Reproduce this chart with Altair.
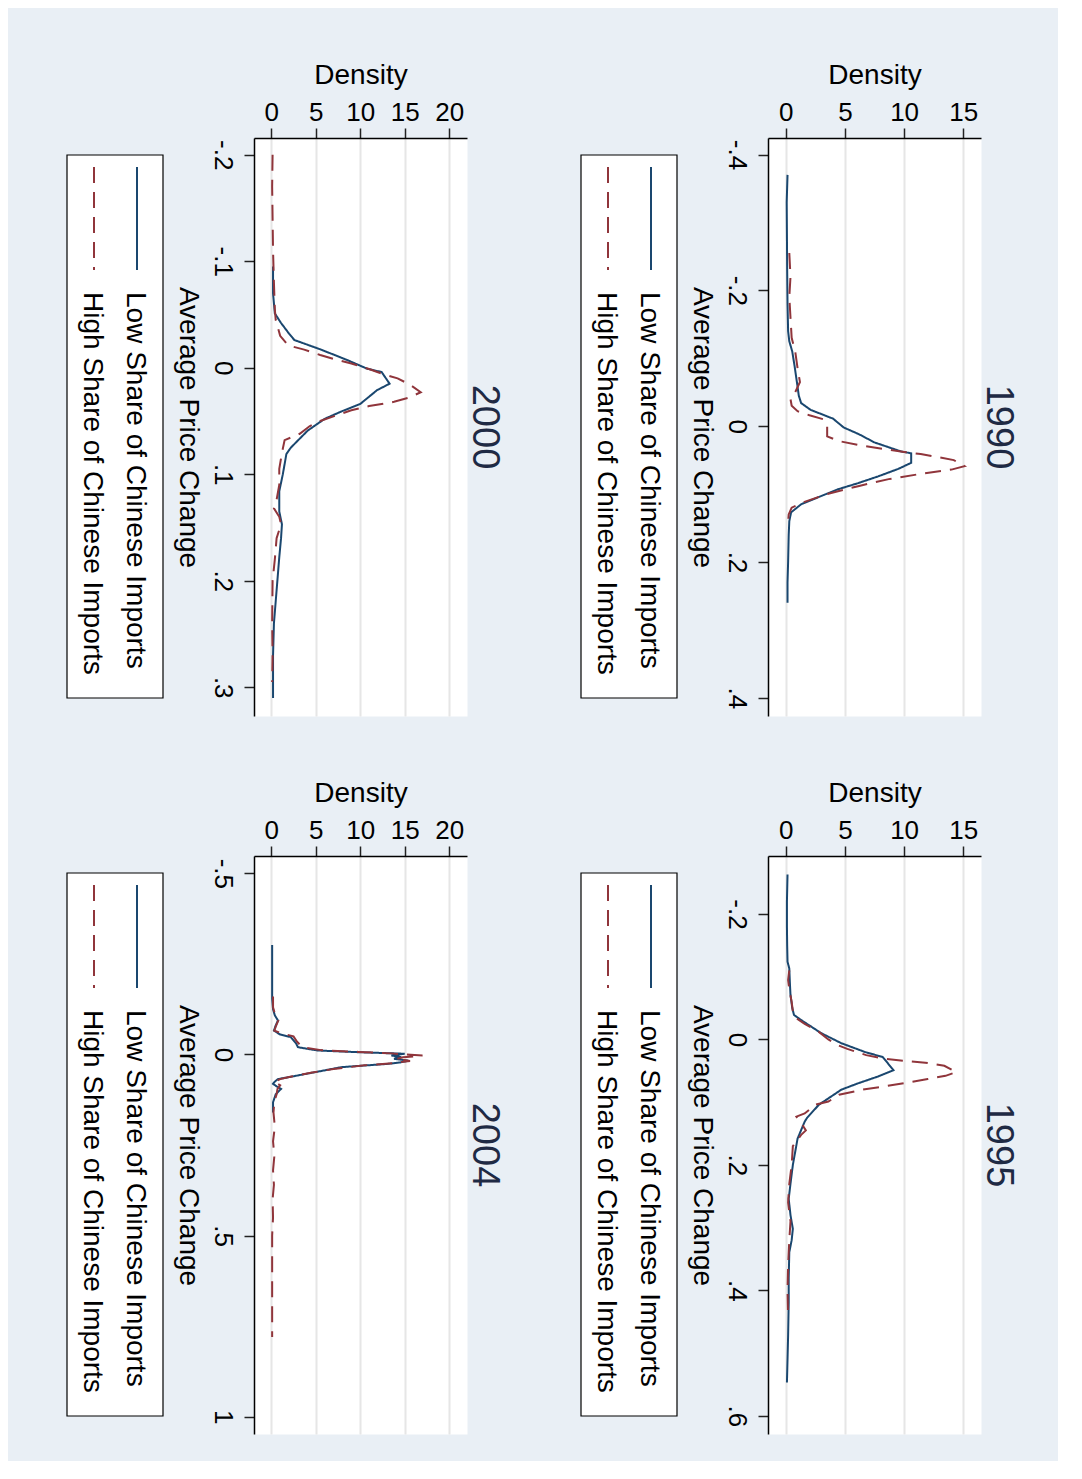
import altair as alt
import pandas as pd

FONT = "Liberation Sans"
LOW = "Low Share of Chinese Imports"
HIGH = "High Share of Chinese Imports"
NAVY = "#1A476F"
MAROON = "#90353B"
BG = "#E9EFF5"

# ---------------- data ----------------
low_1990_price = [-0.37, -0.33, -0.28, -0.23, -0.18, -0.14, -0.125, -0.11, -0.088, -0.064, -0.045, -0.034,
                  -0.024, -0.011, 0.002, 0.012, 0.024, 0.037, 0.040, 0.054, 0.063, 0.074, 0.084, 0.093,
                  0.105, 0.115, 0.127, 0.14, 0.16, 0.20, 0.23, 0.26]
low_1990_dens = [0.15, 0.08, 0.1, 0.12, 0.15, 0.2, 0.3, 0.55, 0.75, 0.95, 1.1, 1.3,
                 2.1, 4.0, 4.9, 6.2, 7.5, 9.7, 10.6, 10.6, 9.5, 7.8, 6.1, 4.4,
                 2.7, 1.3, 0.45, 0.3, 0.25, 0.2, 0.15, 0.15]
high_1990_price = [-0.255, -0.22, -0.19, -0.16, -0.13, -0.11, -0.085, -0.065, -0.05, -0.04, -0.03, -0.022,
                   -0.016, -0.01, 0.0, 0.015, 0.022, 0.028, 0.033, 0.038, 0.041, 0.046, 0.050, 0.059,
                   0.064, 0.070, 0.078, 0.088, 0.10, 0.112, 0.12, 0.13, 0.14]
high_1990_dens = [0.3, 0.4, 0.3, 0.4, 0.5, 0.8, 1.0, 1.2, 0.8, 0.4, 0.5, 1.0,
                  2.0, 3.2, 3.5, 3.5, 4.5, 6.2, 8.0, 10.0, 11.4, 13.0, 14.2, 15.1,
                  14.0, 11.5, 8.7, 6.2, 3.5, 1.5, 0.5, 0.25, 0.2]

low_1995_price = [-0.263, -0.22, -0.18, -0.15, -0.124, -0.113, -0.09, -0.071, -0.05, -0.039, -0.031, -0.010,
                  0.006, 0.020, 0.028, 0.049, 0.059, 0.070, 0.080, 0.099, 0.104, 0.125, 0.131, 0.158,
                  0.20, 0.23, 0.254, 0.28, 0.302, 0.32, 0.339, 0.38, 0.419, 0.472, 0.51, 0.547]
low_1995_dens = [0.15, 0.1, 0.1, 0.12, 0.15, 0.3, 0.35, 0.4, 0.55, 0.7, 1.3, 3.0,
                 4.7, 6.7, 8.2, 9.1, 7.8, 6.1, 4.7, 3.2, 2.8, 1.8, 1.6, 1.0,
                 0.6, 0.4, 0.25, 0.4, 0.6, 0.5, 0.3, 0.25, 0.25, 0.2, 0.15, 0.1]
high_1995_price = [-0.11, -0.095, -0.08, -0.06, -0.045, -0.035, -0.025, -0.012, 0.0, 0.009, 0.015, 0.025,
                   0.031, 0.034, 0.037, 0.042, 0.052, 0.058, 0.063, 0.068, 0.074, 0.080, 0.088, 0.099,
                   0.104, 0.118, 0.123, 0.136, 0.145, 0.152, 0.17, 0.20, 0.23, 0.26, 0.29, 0.32,
                   0.36, 0.40, 0.445]
high_1995_dens = [0.3, 0.2, 0.3, 0.5, 0.6, 0.8, 1.6, 2.8, 3.6, 4.4, 5.2, 6.8,
                  8.4, 10.0, 11.8, 13.4, 14.4, 13.5, 12.0, 10.5, 8.6, 6.5, 4.5, 3.6,
                  2.5, 1.6, 0.9, 1.4, 1.7, 1.3, 0.6, 0.5, 0.3, 0.2, 0.4, 0.3,
                  0.2, 0.15, 0.2]

low_2000_price = [-0.095, -0.07, -0.051, -0.042, -0.032, -0.026, -0.017, -0.007, 0.001, 0.004, 0.015, 0.021,
                  0.034, 0.041, 0.048, 0.059, 0.075, 0.081, 0.10, 0.116, 0.135, 0.147, 0.16, 0.178,
                  0.209, 0.24, 0.27, 0.31]
low_2000_dens = [0.2, 0.2, 0.4, 1.1, 2.0, 2.6, 5.6, 8.6, 10.8, 12.4, 13.3, 11.9,
                 10.0, 7.9, 6.0, 4.1, 2.2, 1.7, 1.3, 0.9, 0.9, 1.2, 1.1, 0.9,
                 0.6, 0.3, 0.2, 0.2]
high_2000_price = [-0.2, -0.17, -0.14, -0.11, -0.08, -0.055, -0.045, -0.03, -0.021, -0.017, -0.012, -0.008,
                   -0.004, 0.001, 0.006, 0.010, 0.016, 0.023, 0.028, 0.032, 0.036, 0.040, 0.045, 0.05,
                   0.055, 0.062, 0.068, 0.08, 0.095, 0.11, 0.124, 0.132, 0.14, 0.147, 0.16, 0.18,
                   0.20, 0.24, 0.27, 0.295]
high_2000_dens = [0.15, 0.1, 0.15, 0.2, 0.3, 0.4, 0.5, 1.0, 1.9, 3.7, 5.5, 7.1,
                  9.0, 10.9, 12.6, 14.2, 15.6, 16.8, 15.5, 13.8, 11.0, 9.0, 7.2, 5.5,
                  4.3, 3.2, 1.5, 1.2, 0.9, 0.9, 0.6, 0.3, 0.9, 1.1, 0.6, 0.4,
                  0.15, 0.1, 0.15, 0.1]

low_2004_price = [-0.302, -0.25, -0.2, -0.154, -0.125, -0.108, -0.094, -0.08, -0.066, -0.055, -0.048, -0.030,
                  -0.020, -0.011, -0.006, -0.002, 0.003, 0.007, 0.012, 0.017, 0.022, 0.026, 0.035, 0.049,
                  0.063, 0.068, 0.075, 0.081, 0.088, 0.095, 0.11, 0.132, 0.16]
low_2004_dens = [0.1, 0.1, 0.1, 0.1, 0.2, 0.4, 0.75, 0.5, 0.3, 1.0, 2.2, 2.8,
                 3.0, 5.2, 10.1, 15.0, 13.5, 14.6, 13.8, 15.4, 14.5, 13.1, 7.9, 4.9,
                 1.9, 0.75, 0.4, 0.2, 0.6, 1.1, 0.5, 0.2, 0.2]
high_2004_price = [-0.16, -0.13, -0.108, -0.094, -0.08, -0.066, -0.058, -0.05, -0.035, -0.02, -0.012, -0.007,
                   -0.003, 0.0, 0.003, 0.008, 0.013, 0.018, 0.024, 0.03, 0.04, 0.05, 0.062, 0.068,
                   0.076, 0.085, 0.095, 0.11, 0.13, 0.16, 0.2, 0.24, 0.28, 0.32, 0.36, 0.40,
                   0.45, 0.5, 0.6, 0.7, 0.78]
high_2004_dens = [0.2, 0.2, 0.45, 0.8, 0.55, 0.35, 1.2, 2.5, 2.9, 3.5, 5.6, 9.8,
                  13.5, 15.0, 17.0, 14.8, 14.0, 15.6, 13.6, 10.5, 7.0, 4.6, 2.0, 1.0,
                  0.3, 1.0, 0.7, 0.6, 0.35, 0.25, 0.4, 0.2, 0.35, 0.2, 0.3, 0.15,
                  0.2, 0.1, 0.1, 0.1, 0.1]

price_ticks_1990 = [-0.4, -0.2, 0, 0.2, 0.4]
price_ticks_1995 = [-0.2, 0, 0.2, 0.4, 0.6]
price_ticks_2000 = [-0.2, -0.1, 0, 0.1, 0.2, 0.3]
price_ticks_2004 = [-0.5, 0, 0.5, 1]
density_ticks_15 = [0, 5, 10, 15]
density_ticks_20 = [0, 5, 10, 15, 20]

# ---------------- layout / style ----------------
PLOT_W, PLOT_H = 213, 578
color_scale = alt.Scale(domain=[LOW, HIGH], range=[NAVY, MAROON])
dash_scale = alt.Scale(domain=[LOW, HIGH], range=[[1, 0], [16, 9]])
price_label = "replace(replace(format(datum.value, '~g'), '\u2212', '-'), '0.', '.')"


def panel(year, lp, ld, hp, hd, price_dom, dens_dom, price_ticks, dens_ticks):
    df = pd.concat([
        pd.DataFrame({"price": lp, "density": ld, "series": LOW}),
        pd.DataFrame({"price": hp, "density": hd, "series": HIGH}),
    ], ignore_index=True)

    base = alt.Chart(df).mark_line(strokeWidth=2).encode(
        x=alt.X("density:Q",
                scale=alt.Scale(domain=dens_dom, nice=False, zero=False),
                axis=alt.Axis(orient="top", values=dens_ticks, title="Density", grid=True,
                              format="~g", labelFlush=False, labelPadding=3, titlePadding=10)),
        y=alt.Y("price:Q",
                scale=alt.Scale(domain=price_dom, nice=False, zero=False, reverse=True),
                axis=alt.Axis(orient="left", values=price_ticks, title="Average Price Change",
                              grid=False, labelExpr=price_label, labelAngle=90,
                              labelAlign="center", labelBaseline="top", labelFlush=False,
                              labelOverlap=False, labelPadding=9,
                              titleAngle=90, titleBaseline="top", titlePadding=8)),
        color=alt.Color("series:N", scale=color_scale, legend=None),
        strokeDash=alt.StrokeDash("series:N", scale=dash_scale, legend=None),
        order=alt.Order("price:Q"),
    )
    low_line = base.transform_filter(alt.datum.series == LOW)
    high_line = base.transform_filter(alt.datum.series == HIGH)

    leg = pd.DataFrame({"series": [LOW, HIGH], "label": [LOW, HIGH]})
    box = alt.Chart(pd.DataFrame({"k": [1]})).mark_rect(
        fill="white", stroke="black", strokeWidth=1.2
    ).encode(x=alt.value(-187), x2=alt.value(-91), y=alt.value(17), y2=alt.value(560))

    layers = [box]
    for name, xpos in [(LOW, -117), (HIGH, -160)]:
        sub = alt.Chart(leg).transform_filter(alt.datum.series == name)
        layers.append(sub.mark_rule(strokeWidth=2).encode(
            x=alt.value(xpos), y=alt.value(29), y2=alt.value(132),
            color=alt.Color("series:N", scale=color_scale, legend=None),
            strokeDash=alt.StrokeDash("series:N", scale=dash_scale, legend=None)))
        layers.append(sub.mark_text(angle=90, align="left", baseline="middle",
                                    font=FONT, fontSize=28, color="black").encode(
            x=alt.value(xpos - 2), y=alt.value(154), text="label:N"))
    layers += [low_line, high_line]

    return alt.layer(*layers).properties(
        width=PLOT_W, height=PLOT_H,
        title=alt.TitleParams(year, orient="right", anchor="middle", offset=-2,
                              font=FONT, fontSize=38, fontWeight="normal", color="#1F2A44"),
    )


p1990 = panel("1990", low_1990_price, low_1990_dens, high_1990_price, high_1990_dens,
              [-0.4243, 0.4268], [-1.5, 16.5], price_ticks_1990, density_ticks_15)
p1995 = panel("1995", low_1995_price, low_1995_dens, high_1995_price, high_1995_dens,
              [-0.2925, 0.629], [-1.5, 16.5], price_ticks_1995, density_ticks_15)
p2000 = panel("2000", low_2000_price, low_2000_dens, high_2000_price, high_2000_dens,
              [-0.2157, 0.327], [-1.94, 22.0], price_ticks_2000, density_ticks_20)
p2004 = panel("2004", low_2004_price, low_2004_dens, high_2004_price, high_2004_dens,
              [-0.548, 1.048], [-1.94, 22.0], price_ticks_2004, density_ticks_20)

left_col = alt.vconcat(p2000, p2004, spacing=61)
right_col = alt.vconcat(p1990, p1995, spacing=61)

chart = alt.hconcat(left_col, right_col, spacing=75).properties(
    padding={"left": 57, "top": 52, "right": 40, "bottom": 26},
    background=BG,
).configure_view(
    fill="white", stroke="transparent"
).configure_axis(
    domainColor="black", domainWidth=1.5,
    tickColor="#222222", tickWidth=1.5, tickSize=10,
    labelFont=FONT, labelFontSize=26, labelColor="black",
    titleFont=FONT, titleFontSize=28, titleFontWeight="normal", titleColor="black",
    gridColor="#E6E6E6", gridWidth=2,
)

chart.save("out.html", embed_options={"renderer": "svg", "actions": False})
